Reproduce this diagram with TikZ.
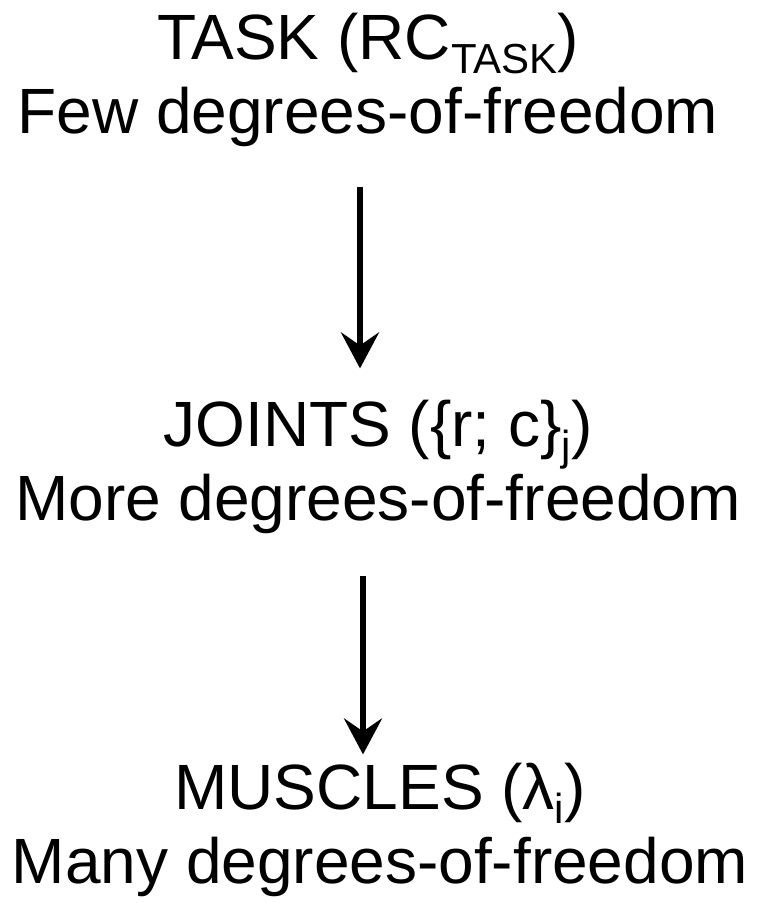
\documentclass[tikz,border=0pt]{standalone}
\usepackage{fontspec}
\setmainfont{Liberation Sans}
\usetikzlibrary{arrows.meta,positioning}
\tikzset{
  level/.style=
  {
    align=center,
    anchor=base,
    inner sep=0pt,
    font=\fontsize{64}{74}\selectfont
  },
  descend/.style=
  {
    line width=6pt,
    -{Stealth[length=36pt,width=38pt,inset=13pt]}
  }
}
\newcommand{\lowsub}[1]{\raisebox{-0.23em}{\fontsize{42}{42}\selectfont #1}}

\begin{document}
\begin{tikzpicture}
  \useasboundingbox (0,0) rectangle (761pt,-903pt);
  % the three levels
  \node[level] (task) at (368pt,-133pt) {TASK (RC\lowsub{TASK})\\Few degrees-of-freedom};
  \node[level] (joints) at (378pt,-520pt) {JOINTS (\{r; c\}\lowsub{j})\\More degrees-of-freedom};
  \node[level] (muscles) at (380pt,-883pt) {MUSCLES (λ\lowsub{i})\\Many degrees-of-freedom};
  % arrows between them
  \draw[descend, shorten <=41pt, shorten >=31pt]
    ([xshift=-8pt]task.south) -- ([xshift=-8pt]task.south |- joints.north);
  \draw[descend, shorten <=43pt, shorten >=8pt]
    ([xshift=-15pt]joints.south) -- ([xshift=-15pt]joints.south |- muscles.north);
\end{tikzpicture}
\end{document}
